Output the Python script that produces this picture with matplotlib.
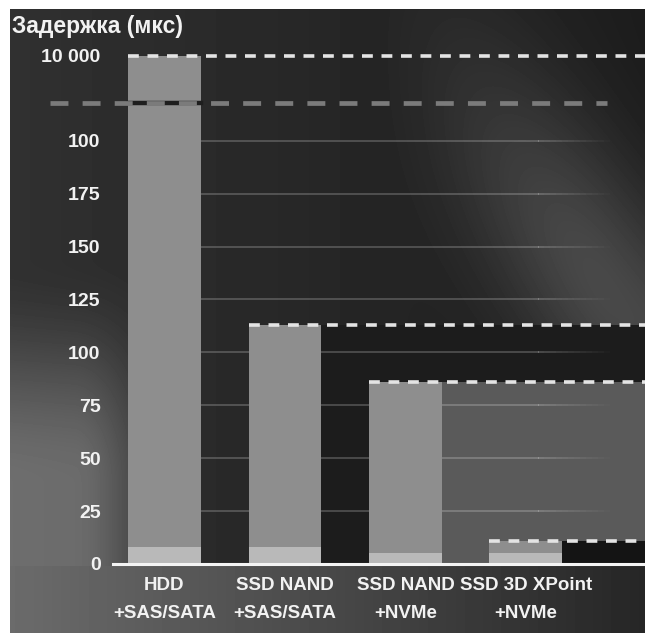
import matplotlib

matplotlib.use("Agg")
import matplotlib.pyplot as plt
import numpy as np
from matplotlib.collections import LineCollection

plt.rcParams["font.family"] = ["Liberation Sans", "DejaVu Sans"]
plt.rcParams["font.weight"] = "bold"

categories = ["HDD\n+SAS/SATA", "SSD NAND\n+SAS/SATA", "SSD NAND\n+NVMe", "SSD 3D XPoint\n+NVMe"]
total_us = [10000, 113, 86, 11]
base_us = [8, 8, 5, 5]
ytick_values = [0, 25, 50, 75, 100, 125, 150, 175, 200, 10000]
ytick_labels = ["0", "25", "50", "75", "100", "125", "150", "175", "100", "10 000"]
ylabel = "Задержка (мкс)"

# colour of the step that each bar throws to the right (HDD has none)
shadow_colors = [None, "#1c1c1c", "#5a5a5a", "#141414"]

LINEAR_TOP = 200
TOP_VALUE = 10000
BREAK_SPAN = 40  # scale units given to 200..10000
BREAK_POS = 218


def forward(v):
    v = np.asarray(v, dtype=float)
    upper = LINEAR_TOP + BREAK_SPAN * np.log10(np.maximum(v, LINEAR_TOP) / LINEAR_TOP) / np.log10(
        TOP_VALUE / LINEAR_TOP
    )
    return np.where(v <= LINEAR_TOP, v, upper)


def inverse(y):
    y = np.asarray(y, dtype=float)
    upper = LINEAR_TOP * (TOP_VALUE / LINEAR_TOP) ** ((np.maximum(y, LINEAR_TOP) - LINEAR_TOP) / BREAK_SPAN)
    return np.where(y <= LINEAR_TOP, y, upper)


def smooth(t, a, b):
    s = np.clip((t - a) / (b - a), 0.0, 1.0)
    return s * s * (3 - 2 * s)


def background_field(h: int, w: int) -> np.ndarray:
    v, u = np.mgrid[0:h, 0:w]
    u = u / (w - 1)
    v = v / (h - 1)
    field = 0.19 - 0.08 * u
    # lighter haze in the lower left corner
    field += 0.24 * smooth(v, 0.40, 0.76) * (1 - smooth(u, 0.10, 0.28))
    # diagonal light sweep on the right
    p0 = np.array([0.66, 0.14])
    d = np.array([0.36, 0.40])
    d = d / np.hypot(*d)
    du, dv = u - p0[0], v - p0[1]
    dist = np.abs(du * d[1] - dv * d[0])
    field += 0.17 * np.exp(-(dist / 0.15) ** 2) * smooth(u, 0.55, 0.95) * (1 - smooth(v, 0.5, 0.62))
    # band under the axis
    below = v > 0.893
    field[below] = (0.42 - 0.27 * u)[below]
    return np.clip(field, 0, 1)


fig = plt.figure(figsize=(6.45, 6.33), dpi=100, facecolor="white")

bg = fig.add_axes([10 / 645, 0, 635 / 645, 624 / 633])
bg.imshow(background_field(624, 635), cmap="gray", vmin=0, vmax=1, extent=(0, 1, 0, 1),
          aspect="auto", interpolation="bilinear")
bg.axis("off")

ax = fig.add_axes([113 / 645, 69 / 633, 532 / 645, 508 / 633])
ax.patch.set_alpha(0)
ax.set_yscale("function", functions=(forward, inverse))

x = np.arange(len(categories))
width = 0.605
xmin, xmax = -0.427, 3.988
ax.set_xlim(xmin, xmax)
ax.set_ylim(0, TOP_VALUE)

# dark steps to the right of each bar
for i, color in enumerate(shadow_colors):
    if color is None:
        continue
    left = x[i] + width / 2
    ax.bar(left, total_us[i], width=xmax - left, align="edge", color=color, zorder=1)

# faint horizontal rules, fading out towards the right
grid_levels = ytick_values[1:-1]
fade_x = np.linspace(3.1, 3.75, 14)
for level in grid_levels:
    ax.plot([x[0] + width / 2, fade_x[0]], [level, level], color="white", alpha=0.2, lw=1.4, zorder=2)
    segs = [[(fade_x[k], level), (fade_x[k + 1], level)] for k in range(len(fade_x) - 1)]
    alphas = np.linspace(0.2, 0.0, len(segs))
    ax.add_collection(LineCollection(segs, colors=[(1, 1, 1, a) for a in alphas], lw=1.4, zorder=2))

upper = np.subtract(total_us, base_us)
ax.bar(x, base_us, width, color="#b9b9b9", zorder=3)
ax.bar(x, upper, width, bottom=base_us, color="#8e8e8e", zorder=3)

# dashed level line from the top of each bar
for i, value in enumerate(total_us):
    ax.plot([x[i] - width / 2, xmax], [value, value], color="#e4e4e4", lw=2.6,
            dashes=(3.0, 2.4), zorder=5, clip_on=False)

# axis break marker
brk = float(inverse(BREAK_POS))
ax.plot([x[0] - width / 2, x[0] + width / 2], [brk, brk], color="#1e1e1e", lw=3.2, zorder=5)
ax.plot([-0.95, 3.67], [brk, brk], color="#7b7b7b", lw=3.4, dashes=(3.8, 3.0), zorder=6, clip_on=False)

ax.axhline(0, color="#f4f4f4", lw=2.2, zorder=6, clip_on=False)

ax.set_yticks(ytick_values, ytick_labels)
ax.set_xticks(x, categories)
ax.tick_params(axis="both", length=0, colors="#f2f2f2")
ax.tick_params(axis="y", pad=9, labelsize=14)
ax.tick_params(axis="x", pad=9, labelsize=13.5)
for label in ax.get_xticklabels():
    label.set_linespacing(1.85)
for spine in ax.spines.values():
    spine.set_visible(False)

fig.text(12 / 645, 1 - 26 / 633, ylabel, color="#f2f2f2", fontsize=16.5, va="center", ha="left")

fig.savefig("out.png", dpi=100)
